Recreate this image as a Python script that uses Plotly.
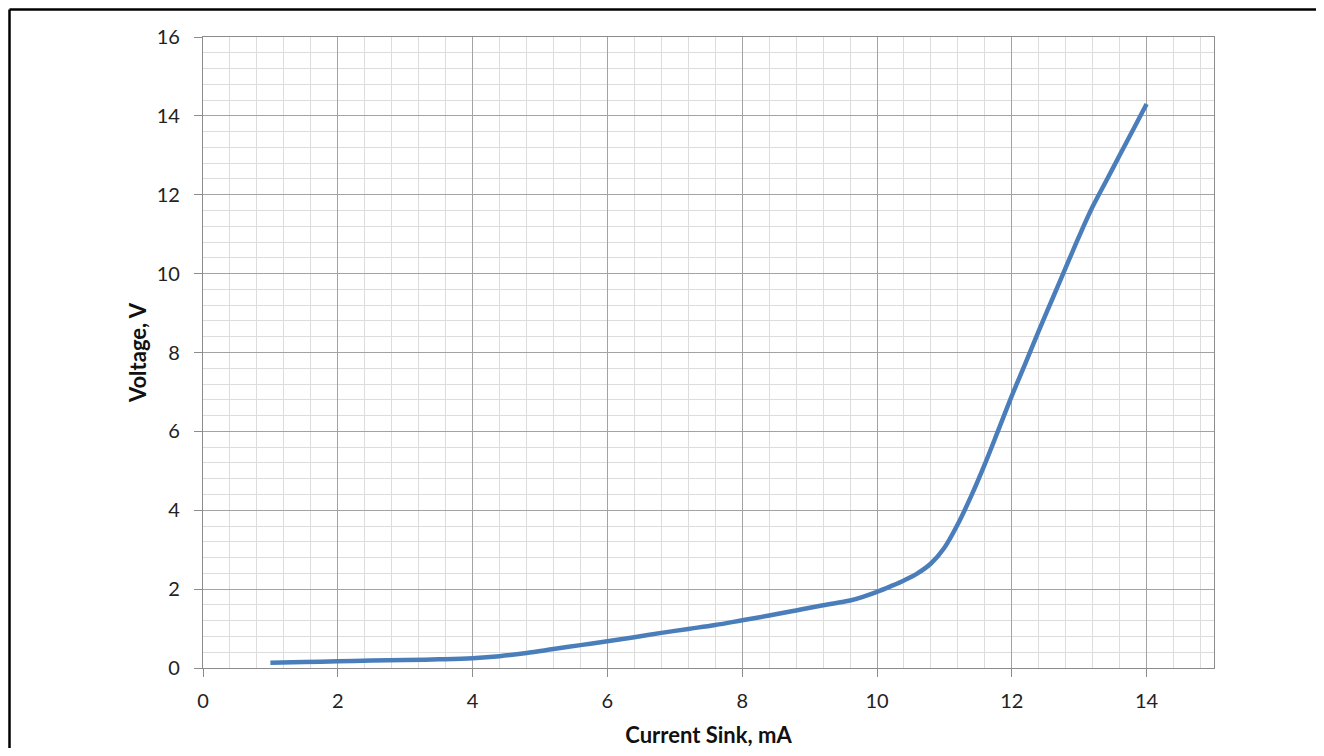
import plotly.graph_objects as go

current_ma = [1.0, 1.5, 2.0, 2.5, 3.0, 3.5, 4.0, 4.4, 4.8, 5.2, 5.6, 6.0, 6.4, 6.8, 7.2, 7.6,
              8.0, 8.4, 8.8, 9.2, 9.6, 9.8, 10.0, 10.2, 10.4, 10.6, 10.8, 11.0, 11.2, 11.4,
              11.6, 11.8, 12.0, 12.2, 12.4, 12.6, 12.8, 13.0, 13.2, 13.4, 13.6, 13.8, 14.0]
voltage_v = [0.13, 0.15, 0.17, 0.19, 0.20, 0.22, 0.25, 0.30, 0.38, 0.48, 0.58, 0.68, 0.78, 0.89,
             0.99, 1.09, 1.21, 1.33, 1.46, 1.59, 1.71, 1.81, 1.93, 2.07, 2.22, 2.40, 2.65,
             3.05, 3.65, 4.37, 5.17, 6.03, 6.90, 7.72, 8.55, 9.35, 10.15, 10.95, 11.70,
             12.35, 13.00, 13.65, 14.30]

x_title = "Current Sink, mA"
y_title = "Voltage, V"

# page body adds an 8px offset; figure sized to fit the 1324x756 viewport
W, H = 1308, 740
L, R, T, B = 195, 102, 29, 80

fig = go.Figure()
fig.add_trace(go.Scatter(
    x=current_ma, y=voltage_v, mode="lines",
    line=dict(color="#4a7ebb", width=4.5, shape="spline", smoothing=1.0),
    showlegend=False, hoverinfo="x+y",
))

font_fam = "Lato, 'Open Sans', sans-serif"
axis_common = dict(
    showline=True, linecolor="#8c8c8c", linewidth=1.3, mirror=True,
    showgrid=True, gridcolor="#a3a3a3", gridwidth=1.2,
    ticks="outside", ticklen=8, tickwidth=1.3, tickcolor="#8c8c8c",
    zeroline=False, automargin=False,
    tickfont=dict(family=font_fam, size=20, color="#222222"),
    minor=dict(dtick=0.4, showgrid=True, gridcolor="#dcdcdc", gridwidth=1.2, ticks=""),
)

fig.update_xaxes(
    range=[0, 15], dtick=2, tick0=0,
    title=dict(text=f"<b>{x_title}</b>", font=dict(family=font_fam, size=22, color="#111111"), standoff=18),
    ticklabelstandoff=7,
    **axis_common,
)
fig.update_yaxes(
    range=[0, 16], dtick=2, tick0=0,
    title=dict(text=f"<b>{y_title}</b>", font=dict(family=font_fam, size=22, color="#111111"), standoff=3),
    ticklabelstandoff=10,
    **axis_common,
)

# outer black frame (runs off the right and bottom edges like the reference)
pw, ph = W - L - R, H - T - B
x0 = (1.5 - L) / pw
y1 = 1 + (T - 1.5) / ph
fig.add_shape(type="line", xref="paper", yref="paper", x0=x0, x1=(W + 20 - L) / pw, y0=y1, y1=y1,
              line=dict(color="black", width=2.5))
fig.add_shape(type="line", xref="paper", yref="paper", x0=x0, x1=x0, y0=y1, y1=-(B + 20) / ph,
              line=dict(color="black", width=2.5))

fig.update_layout(
    width=W, height=H,
    margin=dict(l=L, r=R, t=T, b=B),
    paper_bgcolor="white", plot_bgcolor="white",
)

fig.write_html("out.html")
